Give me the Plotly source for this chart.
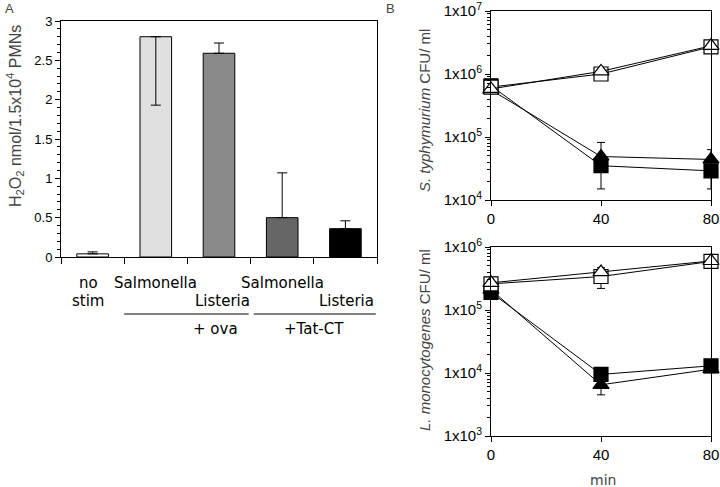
import plotly.graph_objects as go

# ---------------- data ----------------
# Panel A
bar_keys = ["no stim", "Salmonella + ova", "Listeria + ova", "Salmonella +Tat-CT", "Listeria +Tat-CT"]
bar_values = [0.04, 2.80, 2.59, 0.50, 0.36]
bar_err_plus = [0.025, 0.0, 0.13, 0.57, 0.10]
bar_err_minus = [0.0, 0.87, 0.0, 0.0, 0.0]
bar_colors = ["#ffffff", "#e0e0e0", "#8a8a8a", "#666666", "#000000"]

# Panel B
minutes = [0, 40, 80]
# S. typhymurium
st_open_sq = [6.2e5, 1.0e6, 2.7e6]
st_open_tri = [5.8e5, 1.1e6, 2.8e6]
st_fill_sq = [6.5e5, 3.5e4, 2.9e4]
st_fill_sq_errm = [0, 2.0e4, 1.4e4]
st_fill_tri = [5.6e5, 4.9e4, 4.4e4]
st_fill_tri_errp = [0, 3.3e4, 1.9e4]
# L. monocytogenes
lm_open_sq = [2.6e5, 3.4e5, 5.9e5]
lm_open_sq_errm = [0, 1.2e5, 0]
lm_open_tri = [2.7e5, 4.0e5, 6.0e5]
lm_open_tri_errp = [0, 0.7e5, 0]
lm_fill_sq = [1.9e5, 9.5e3, 1.3e4]
lm_fill_tri = [2.1e5, 6.5e3, 1.15e4]
lm_fill_tri_errm = [0, 2.0e3, 0]

fig = go.Figure()

TICKFONT = dict(family="Liberation Sans, Arial", size=13, color="black")
LABFONT = dict(family="DejaVu Sans", size=15, color="black")

# ---------------- panel A ----------------
fig.add_trace(go.Bar(
    x=list(range(len(bar_keys))), y=bar_values, width=0.5,
    marker=dict(color=bar_colors, line=dict(color="black", width=1)),
    error_y=dict(type="data", symmetric=False, array=bar_err_plus,
                 arrayminus=bar_err_minus, color="black", thickness=1, width=5),
    xaxis="x", yaxis="y", showlegend=False, hovertext=bar_keys,
))


def series(x, y, xa, ya, symbol, filled, errp=None, errm=None):
    err = None
    if errp is not None or errm is not None:
        err = dict(type="data", symmetric=False,
                   array=errp if errp is not None else [0] * len(y),
                   arrayminus=errm if errm is not None else [0] * len(y),
                   color="black", thickness=1, width=4)
    return go.Scatter(
        x=x, y=y, xaxis=xa, yaxis=ya, mode="lines+markers", showlegend=False,
        cliponaxis=False,
        line=dict(color="black", width=1),
        marker=dict(symbol=symbol, size=14,
                    color="black" if filled else "white",
                    line=dict(color="black", width=1.2)),
        error_y=err,
    )


# top panel B
fig.add_trace(series(minutes, st_fill_sq, "x2", "y2", "square", True, errm=st_fill_sq_errm))
fig.add_trace(series(minutes, st_fill_tri, "x2", "y2", "triangle-up", True, errp=st_fill_tri_errp))
fig.add_trace(series(minutes, st_open_sq, "x2", "y2", "square", False))
fig.add_trace(series(minutes, st_open_tri, "x2", "y2", "triangle-up", False))
# bottom panel B
fig.add_trace(series(minutes, lm_fill_sq, "x3", "y3", "square", True))
fig.add_trace(series(minutes, lm_fill_tri, "x3", "y3", "triangle-up", True, errm=lm_fill_tri_errm))
fig.add_trace(series(minutes, lm_open_sq, "x3", "y3", "square", False, errm=lm_open_sq_errm))
fig.add_trace(series(minutes, lm_open_tri, "x3", "y3", "triangle-up", False, errp=lm_open_tri_errp))

W, H = 720, 487


def xd(a, b):
    return [a / W, b / W]


def yd(top, bottom):
    return [1 - bottom / H, 1 - top / H]


def logminor(lo, hi):
    vals = []
    for e in range(lo, hi):
        for k in range(2, 10):
            vals.append(k * 10 ** e)
    return vals


def logtext(lo, hi):
    return [10 ** e for e in range(lo, hi + 1)], ["1x10<sup>%d</sup>" % e for e in range(lo, hi + 1)]


axcommon = dict(showline=True, linecolor="black", linewidth=1, mirror=True,
                showgrid=False, zeroline=False, automargin=False,
                ticklabeloverflow="allow",
                ticks="outside", tickcolor="black", tickfont=TICKFONT)

tv2, tt2 = logtext(4, 7)
tv3, tt3 = logtext(3, 6)
BTICK = dict(TICKFONT, size=15)
BXTICK = dict(TICKFONT, size=15)
BX = xd(491, 711)

fig.update_layout(
    template="none",
    width=W, height=H,
    margin=dict(l=0, r=0, t=0, b=0),
    paper_bgcolor="white", plot_bgcolor="white",
    bargap=0.5,
    xaxis=dict(domain=xd(61, 377), range=[-0.5, 4.5], tickmode="array",
               tickvals=[-0.5, 0.5, 1.5, 2.5, 3.5, 4.5], showticklabels=False,
               ticklen=6, anchor="y", **axcommon),
    yaxis=dict(domain=yd(21, 257), range=[0, 3], dtick=0.5, ticklen=5,
               minor=dict(dtick=0.1, ticks="outside", ticklen=3, tickcolor="black"),
               anchor="x", **axcommon),
    xaxis2=dict(domain=BX, range=[0, 80], tickvals=[0, 40, 80], ticklen=5,
                anchor="y2", **{**axcommon, "tickfont": BXTICK}),
    yaxis2=dict(domain=yd(11, 200), type="log", range=[4, 7], tickvals=tv2, ticktext=tt2,
                ticklen=5, minor=dict(tickvals=logminor(4, 7), ticks="outside", ticklen=3,
                                      tickcolor="black"),
                anchor="x2", **{**axcommon, "tickfont": BTICK}),
    xaxis3=dict(domain=BX, range=[0, 80], tickvals=[0, 40, 80], ticklen=5,
                anchor="y3", **{**axcommon, "tickfont": BXTICK}),
    yaxis3=dict(domain=yd(247, 436), type="log", range=[3, 6], tickvals=tv3, ticktext=tt3,
                ticklen=5, minor=dict(tickvals=logminor(3, 6), ticks="outside", ticklen=3,
                                      tickcolor="black"),
                anchor="x3", **{**axcommon, "tickfont": BTICK}),
)

ann = []
# panel letters
ann.append(dict(text="A", x=3 / W, y=1 - 8 / H, xref="paper", yref="paper",
                xanchor="left", yanchor="middle", showarrow=False,
                font=dict(family="Liberation Sans", size=13)))
ann.append(dict(text="B", x=384 / W, y=1 - 8 / H, xref="paper", yref="paper",
                xanchor="left", yanchor="middle", showarrow=False,
                font=dict(family="Liberation Sans", size=13)))
# y titles
ann.append(dict(text="H<sub>2</sub>O<sub>2</sub> nmol/1.5x10<sup>4</sup> PMNs",
                x=15 / W, y=1 - 116 / H, xref="paper", yref="paper", textangle=-90,
                xanchor="center", yanchor="middle", showarrow=False,
                font=dict(family="Liberation Sans, Arial", size=16)))
ann.append(dict(text="<i>S. typhymurium</i> CFU/ ml",
                x=424 / W, y=1 - 111 / H, xref="paper", yref="paper", textangle=-90,
                xanchor="center", yanchor="middle", showarrow=False,
                font=dict(family="Liberation Sans, Arial", size=15)))
ann.append(dict(text="<i>L. monocytogenes</i> CFU/ ml",
                x=424 / W, y=1 - 340 / H, xref="paper", yref="paper", textangle=-90,
                xanchor="center", yanchor="middle", showarrow=False,
                font=dict(family="Liberation Sans, Arial", size=15)))
ann.append(dict(text="min", x=603 / W, y=1 - 480 / H, xref="paper", yref="paper",
                xanchor="center", yanchor="middle", showarrow=False,
                font=dict(family="DejaVu Sans", size=14)))


# category labels panel A
def lab(text, x, ypx, anchor="center"):
    ann.append(dict(text=text, x=x, y=1 - ypx / H, xref="x", yref="paper",
                    xanchor=anchor, yanchor="middle", showarrow=False, font=LABFONT))


lab("no", -0.07, 283)
lab("stim", -0.07, 301)
lab("Salmonella", 1.0, 283)
lab("Listeria", 2.52, 301, "right")
lab("Salmonella", 3.0, 283)
lab("Listeria", 4.48, 301, "right")
lab("+ ova", 1.95, 329)
lab("+Tat-CT", 3.5, 329)
fig.update_layout(annotations=ann)

# group underlines
for a, b in [(0.5, 2.47), (2.55, 4.48)]:
    fig.add_shape(type="line", xref="x", yref="paper", x0=a, x1=b,
                  y0=1 - 314 / H, y1=1 - 314 / H, line=dict(color="black", width=1))

fig.write_html("out.html", config={"displayModeBar": False},
               post_script="document.body.style.margin='0';document.body.style.padding='0';")
